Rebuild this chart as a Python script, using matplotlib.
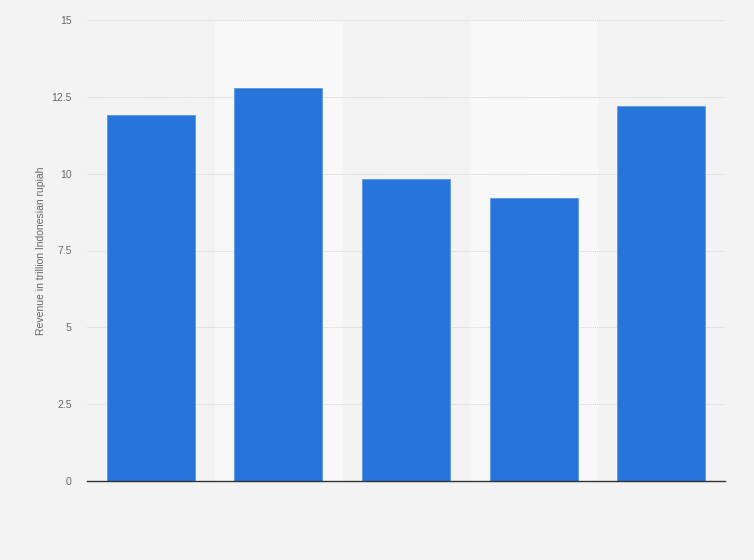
import matplotlib.pyplot as plt

plt.rcParams["font.family"] = ["Liberation Sans", "DejaVu Sans"]

# revenue per year (trillion IDR)
categories = ["", "", "", "", ""]
revenue = [11.9, 12.8, 9.83, 9.2, 12.2]
y_ticks = [0, 2.5, 5, 7.5, 10, 12.5, 15]
y_tick_labels = ["0", "2.5", "5", "7.5", "10", "12.5", "15"]

bg = "#f3f3f3"
fig = plt.figure(figsize=(7.54, 5.60), dpi=100, facecolor=bg)
ax = fig.add_axes([87 / 754, 79 / 560, 638 / 754, 461 / 560])
ax.set_facecolor(bg)

x = list(range(len(revenue)))
# lighter bands behind every second category
for i in x:
    if i % 2 == 1:
        ax.axvspan(i - 0.5, i + 0.5, color="#f8f8f8", zorder=0)

ax.bar(x, revenue, width=0.69, color="#2775db", edgecolor="#5b98e8",
       linewidth=0.6, zorder=3)

ax.set_xlim(-0.5, len(revenue) - 0.5)
ax.set_ylim(0, 15)
ax.set_yticks(y_ticks)
ax.set_yticklabels(y_tick_labels)
ax.set_xticks(x)
ax.set_xticklabels(categories)
ax.tick_params(axis="both", length=0, labelsize=7.5, colors="#666666", pad=14)
ax.tick_params(axis="y", pad=11)
ax.grid(axis="y", color="#d2d2d2", linestyle=(0, (1, 1)), linewidth=0.7, zorder=1)

for side in ["top", "right", "left"]:
    ax.spines[side].set_visible(False)
ax.spines["bottom"].set_color("#333333")
ax.spines["bottom"].set_linewidth(1.0)
ax.spines["bottom"].set_zorder(4)

ax.set_ylabel("Revenue in trillion Indonesian rupiah", fontsize=7.5,
              color="#666666", va="center")
ax.yaxis.set_label_coords(-46 / 638, 0.5)

fig.savefig("out.png", dpi=100, facecolor=bg)
